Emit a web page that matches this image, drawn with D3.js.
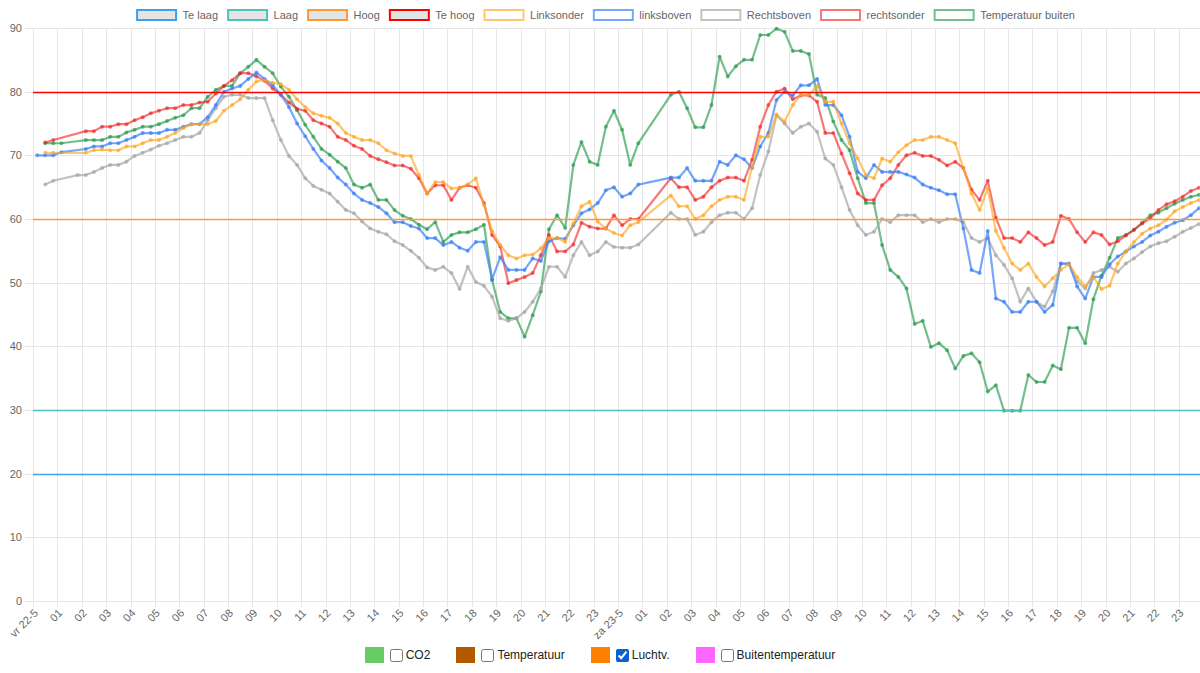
<!DOCTYPE html>
<html>
<head>
<meta charset="utf-8">
<script src="https://cdn.jsdelivr.net/npm/d3@7"></script>
<style>
  body { margin: 0; background: #fff; font-family: "Liberation Sans", Arial, sans-serif; }
  #wrap { position: relative; width: 1200px; height: 673px; overflow: hidden; }
  #chart { position: absolute; left: 0; top: 0; }
  #controls { position: absolute; left: 0; top: 647px; width: 1200px; display: flex; justify-content: center; align-items: center; font-size: 12px; color: #222; }
  .item { display: flex; align-items: center; margin: 0 13px; }
  .swatch { width: 19px; height: 16px; margin-right: 6px; }
  .item input { width: 13px; height: 13px; margin: 0 3px 0 0; accent-color: #0b5fd1; }
</style>
</head>
<body>
<div id="wrap">
  <svg id="chart" width="1200" height="645"></svg>
  <div id="controls"></div>
</div>
<script>
// time grid: one reading every 20 minutes, from vr 22-5 00:10 to za 23-5 23:50
const start = new Date(2020, 4, 22, 0, 0)
const slotCount = 144
const dayLabels = ["vr 22-5", "za 23-5"]

// thresholds (horizontal lines)
const thresholds = [
  { name: "Te laag", value: 20, color: "#3f9fea" },
  { name: "Laag",    value: 30, color: "#4bc4bb" },
  { name: "Hoog",    value: 60, color: "#ff9933" },
  { name: "Te hoog", value: 80, color: "#ff0000" }
]

// Luchtv. per sensor, one value per 20 min slot (null = no reading)
const linksonder = [
  null, 70.4, 70.4, null, null, null, 70.4, 70.8, 70.9, 70.8, 70.8, 71.4,
  71.4, 71.9, 72.4, 72.4, 72.9, 73.5, 74.3, 74.9, 74.9, 74.9, 75.4, 77,
  77.9, 78.8, 80.3, 81.6, 81.8, 81.4, 81.2, 80.3, 78.8, 77.6, 76.6, 76.2,
  75.9, 75, 73.5, 72.9, 72.4, 72.4, 71.9, 70.8, 70.3, 69.9, 69.9, 66.9,
  64, 65.8, 65.8, 64.8, 64.9, 65.4, 66.4, 62.2, 58.1, 55.9, 54.3, 53.8,
  54.3, 54.4, 55.4, 57, 57, 56.4, 59.3, 62, 62.7, 59.6, 58.5, 57.8,
  57.4, 59, 59.5, null, null, null, 63.7, 62, 62, 60, 60.6, 62,
  63, 63.5, 63.5, 63, 68.2, 72.9, 72.9, 76.4, 75.3, 77.9, 79.5, 79.5,
  80.9, 78.4, 78.4, 75, 71.9, 69.5, 66.9, 66.4, 69.5, 69, 70.5, 71.6,
  72.4, 72.4, 72.9, 72.9, 72.4, 71.9, 68, 64, 61.4, 64.8, 58.1, 55.5,
  53, 52, 53, 50.9, 49.4, 50.7, 52, 52.9, 50.9, 49.4, 50.9, 49,
  49.5, 53, 54.9, 56.4, 57.7, 58.5, 59, 59.9, 61.2, 61.9, 62.5, 63
]
const linksboven = [
  70, 70, 70, 70.5, null, null, 71, 71.4, 71.4, 71.9, 71.9, 72.4,
  72.9, 73.5, 73.5, 73.5, 74, 74, 74.5, 74.9, 74.9, 76, 77.9, 80,
  80.5, 80.9, 82, 83, 82, 81, 79.5, 77.6, 75, 73, 71, 69.2,
  68, 66.5, 65.4, 64, 63, 62.5, 61.9, 60.9, 59.5, 59.5, 58.9, 58.5,
  57, 57, 55.9, 56.4, 55.5, 55, 56.4, 56.4, 50.5, 54, 52, 52,
  52, 53.8, 53.4, 56.5, 57, 56.9, 59, 60.9, 61.5, 62.5, 64.5, 65,
  63.5, 64, 65.4, null, null, null, 66.5, 66.5, 68, 66, 66, 66,
  69, 68.5, 70, 69.4, 68, 71.4, 73.5, 78.7, 80, 79.4, 81, 81,
  82, 77.9, 77.9, 76.3, 72.9, 67.4, 66.4, 68.5, 67.4, 67.4, 67.4, 67,
  66.5, 65.4, 64.9, 64.5, 63.9, 63.9, 58.5, 52, 51.5, 58.1, 47.5, 47,
  45.4, 45.4, 47, 47, 45.4, 46.5, 53, 53, 49.4, 47.5, 50.9, 50.9,
  52.9, 54.1, 54.9, 55.7, 56.4, 57.4, 58, 58.8, 59.4, 59.8, 60.6, 61.7
]
const rechtsboven = [
  null, 65.4, 66, null, null, 66.9, 66.9, 67.4, 68, 68.5, 68.5, 69,
  69.9, 70.4, 70.9, 71.5, 71.9, 72.4, 72.9, 72.9, 73.5, 75.5, 77.4, 79.2,
  79.5, 79.5, 79, 79, 79, 75.5, 72.4, 69.9, 68.5, 66.4, 65.2, 64.6,
  64, 62.7, 61.4, 60.9, 59.6, 58.5, 58, 57.6, 56.5, 55.9, 55, 53.9,
  52.4, 52, 52.5, 51.5, 49, 52.5, 50.1, 49.5, 47.8, 44.4, 44, 44.4,
  45.4, 47, 49.1, 52.5, 52.5, 50.9, 54.3, 56.4, 54.3, 54.9, 56.4, 55.6,
  55.5, 55.5, 56, null, null, null, 61, 60, 60, 57.5, 58, 59.5,
  60.6, 61, 61, 60, 61.7, 66.9, 70.6, 76.3, 75, 73.5, 74.5, 75,
  73.7, 69.5, 68.5, 65, 61.4, 59, 57.5, 58, 60, 59.5, 60.6, 60.6,
  60.6, 59.5, 60, 59.5, 60, 60, 59.5, 57, 56.4, 57, 54.3, 52.8,
  50.7, 47, 49.1, 47, 46.2, 48.6, 53, 52.9, 50.2, 49.1, 51.5, 52,
  52.5, 51.7, 53, 53.8, 54.8, 55.7, 56.2, 56.5, 57.2, 58, 58.6, 59.2
]
const rechtsonder = [
  null, 72, 72.4, null, null, null, 73.8, 73.8, 74.5, 74.5, 74.9, 74.9,
  75.5, 76, 76.6, 77, 77.4, 77.4, 77.9, 77.9, 78.3, 78.4, 79.7, 80.9,
  81.8, 82.9, 82.9, 82.4, 81.7, 80.5, 79.5, 78.3, 77.3, 77, 75.5, 75,
  74.5, 72.9, 72.4, 71.5, 71, 69.9, 69.4, 68.9, 68.4, 68.4, 67.9, 66.4,
  64, 65.3, 65.3, 63, 64.9, 65.3, 64.9, 62.5, 57.5, 55.7, 49.9, 50.4,
  50.9, 51.5, 54.3, 57.5, 54.9, 54.9, 56, 59.4, 58.8, 58.5, 58.5, 60.6,
  59, 60, 60, null, null, null, 66.4, 65, 65, 63, 63.5, 65,
  66, 66.5, 66.5, 66, 69.3, 74.5, 77.9, 80, 80.5, 78.8, 79.4, 79.4,
  78.4, 73.5, 73.5, 70.3, 67.2, 64, 63, 63, 65.3, 66.4, 68.5, 70,
  70.4, 69.9, 69.9, 69.3, 68.4, 69, 68, 64.6, 63, 66, 60.2, 57,
  57, 56.4, 57.9, 57, 55.9, 56.4, 60.5, 60, 57.9, 56.4, 57.9, 57.5,
  56, 56.5, 57.4, 58.3, 59.3, 60.1, 61.4, 62.3, 62.8, 63.5, 64.4, 64.9
]
const temperatuurBuiten = [
  null, 71.9, 71.9, 71.9, null, null, 72.4, 72.4, 72.4, 72.9, 72.9, 73.6,
  74, 74.5, 74.5, 74.9, 75.4, 75.9, 76.3, 77.4, 77.4, 79.2, 80.3, 80.9,
  80.9, 82.9, 83.9, 85, 83.9, 82.9, 80.8, 79.2, 77.1, 74.8, 72.9, 71,
  70.1, 69, 68, 65.4, 64.9, 65.4, 63, 63, 61.4, 60.5, 60, 59.1,
  58.4, 59.5, 56.4, 57.5, 57.9, 57.9, 58.4, 59.1, 50.4, 45.4, 44.4, 44.4,
  41.5, 44.9, 48.6, 58.4, 60.6, 58.6, 68.5, 72.1, 69, 68.5, 74.5, 77,
  74, 68.5, 71.9, null, null, null, 79.5, 80, 77.4, 74.4, 74.4, 77.9,
  85.5, 82.4, 84, 85, 85, 88.9, 88.9, 89.9, 89.4, 86.4, 86.4, 85.9,
  79.5, 79, 75.3, 72.4, 70.8, 66.4, 62.5, 62.5, 55.9, 52, 50.9, 49.1,
  43.5, 44, 39.9, 40.5, 39.4, 36.5, 38.5, 38.9, 37.5, 32.9, 33.9, 29.9,
  29.9, 29.9, 35.5, 34.4, 34.4, 37, 36.4, 42.9, 42.9, 40.5, 47.4, 51.1,
  53.9, 57, 57.5, 58.3, 59.4, 60.6, 61, 61.7, 62.4, 63, 63.5, 63.8
]

const series = [
  { name: "Linksonder",         color: "rgba(255,163,26,0.62)", values: linksonder },
  { name: "linksboven",         color: "rgba(55,125,245,0.68)", values: linksboven },
  { name: "Rechtsboven",        color: "rgba(165,165,165,0.68)", values: rechtsboven },
  { name: "rechtsonder",        color: "rgba(240,30,30,0.6)",   values: rechtsonder },
  { name: "Temperatuur buiten", color: "rgba(30,150,70,0.62)",  values: temperatuurBuiten }
]

// bottom toggles
const toggles = [
  { name: "CO2",               color: "#66cc66", checked: false },
  { name: "Temperatuur",       color: "#b35900", checked: false },
  { name: "Luchtv.",           color: "#ff8000", checked: true },
  { name: "Buitentemperatuur", color: "#ff66ff", checked: false }
]

series.forEach(s => { if (s.values.length !== slotCount) throw new Error(s.name + " has " + s.values.length) })

const times = d3.range(slotCount).map(i => d3.timeMinute.offset(start, 10 + 20 * i))
const hours = d3.range(48).map(h => d3.timeHour.offset(start, h))
const hourLabel = (d, i) => i % 24 === 0 ? dayLabels[i / 24] : String(i % 24).padStart(2, "0")

const svg = d3.select("#chart")
const plot = { left: 33, right: 1199, top: 28, bottom: 601 }
const gridColor = "#e6e6e6"
const textColor = "#666"

const x = d3.scaleTime().domain([start, times[slotCount - 1]]).range([plot.left, plot.right])
const y = d3.scaleLinear().domain([0, 90]).range([plot.bottom, plot.top])
const crisp = v => Math.round(v) + 0.5

// gridlines
svg.append("g").selectAll("line")
  .data(y.ticks(9)).join("line")
    .attr("x1", plot.left - 8).attr("x2", 1200)
    .attr("y1", d => crisp(y(d))).attr("y2", d => crisp(y(d)))
    .attr("stroke", gridColor)
svg.append("g").selectAll("line")
  .data(hours).join("line")
    .attr("x1", d => crisp(x(d))).attr("x2", d => crisp(x(d)))
    .attr("y1", plot.top).attr("y2", plot.bottom + 6)
    .attr("stroke", gridColor)

// y tick labels
svg.append("g").selectAll("text")
  .data(y.ticks(9)).join("text")
    .attr("x", 22).attr("y", d => y(d))
    .attr("dy", "0.35em")
    .attr("text-anchor", "end")
    .attr("font-size", 11).attr("fill", textColor)
    .text(d => d)

// x tick labels, rotated
svg.append("g").selectAll("text")
  .data(hours).join("text")
    .attr("transform", d => `translate(${x(d) + 3},${plot.bottom + 10}) rotate(-45)`)
    .attr("text-anchor", "end")
    .attr("dy", "0.35em")
    .attr("font-size", 11).attr("fill", textColor)
    .text(hourLabel)

// sensor lines (gaps are bridged)
const line = d3.line().x(d => x(d.t)).y(d => y(d.v))
const seriesG = svg.append("g")
series.slice().reverse().forEach(s => {
  const pts = s.values.map((v, i) => ({ t: times[i], v })).filter(d => d.v !== null)
  const g = seriesG.append("g")
  g.append("path")
    .datum(pts)
    .attr("d", line)
    .attr("fill", "none")
    .attr("stroke", s.color)
    .attr("stroke-width", 2.2)
    .attr("stroke-linejoin", "round")
  g.selectAll("circle")
    .data(pts).join("circle")
      .attr("cx", d => x(d.t)).attr("cy", d => y(d.v))
      .attr("r", 2)
      .attr("fill", s.color)
})

// threshold lines across the full width
svg.append("g").selectAll("line")
  .data(thresholds).join("line")
    .attr("x1", plot.left).attr("x2", 1200)
    .attr("y1", d => crisp(y(d.value))).attr("y2", d => crisp(y(d.value)))
    .attr("stroke", d => d.color)
    .attr("stroke-width", 1.3)

// top legend
const legendItems = thresholds.map(t => ({ name: t.name, color: t.color, fill: "#e4e4e4" }))
  .concat(series.map(s => ({ name: s.name, color: s.color, fill: "#fff" })))
const legend = svg.append("g")
const boxW = 39, boxH = 10, fs = 11
const entries = legend.selectAll("g").data(legendItems).join("g")
entries.append("rect")
  .attr("width", boxW).attr("height", boxH)
  .attr("y", 10)
  .attr("fill", d => d.fill)
  .attr("stroke", d => d.color)
  .attr("stroke-width", 2)
entries.append("text")
  .attr("x", boxW + fs / 2 + 1).attr("y", 15).attr("dy", "0.35em")
  .attr("font-size", fs).attr("fill", textColor)
  .text(d => d.name)
let widths = []
entries.each(function () { widths.push(boxW + fs / 2 + 1 + d3.select(this).select("text").node().getComputedTextLength()) })
const gap = 10
const total = d3.sum(widths) + gap * (widths.length - 1)
let cx = 606 - total / 2
entries.each(function (d, i) {
  d3.select(this).attr("transform", `translate(${cx},0)`)
  cx += widths[i] + gap
})

// bottom toggles
const items = d3.select("#controls").selectAll("label")
  .data(toggles).join("label").attr("class", "item")
items.append("span").attr("class", "swatch").style("background", d => d.color)
items.append("input").attr("type", "checkbox").property("checked", d => d.checked)
items.append("span").text(d => d.name)
</script>
</body>
</html>
